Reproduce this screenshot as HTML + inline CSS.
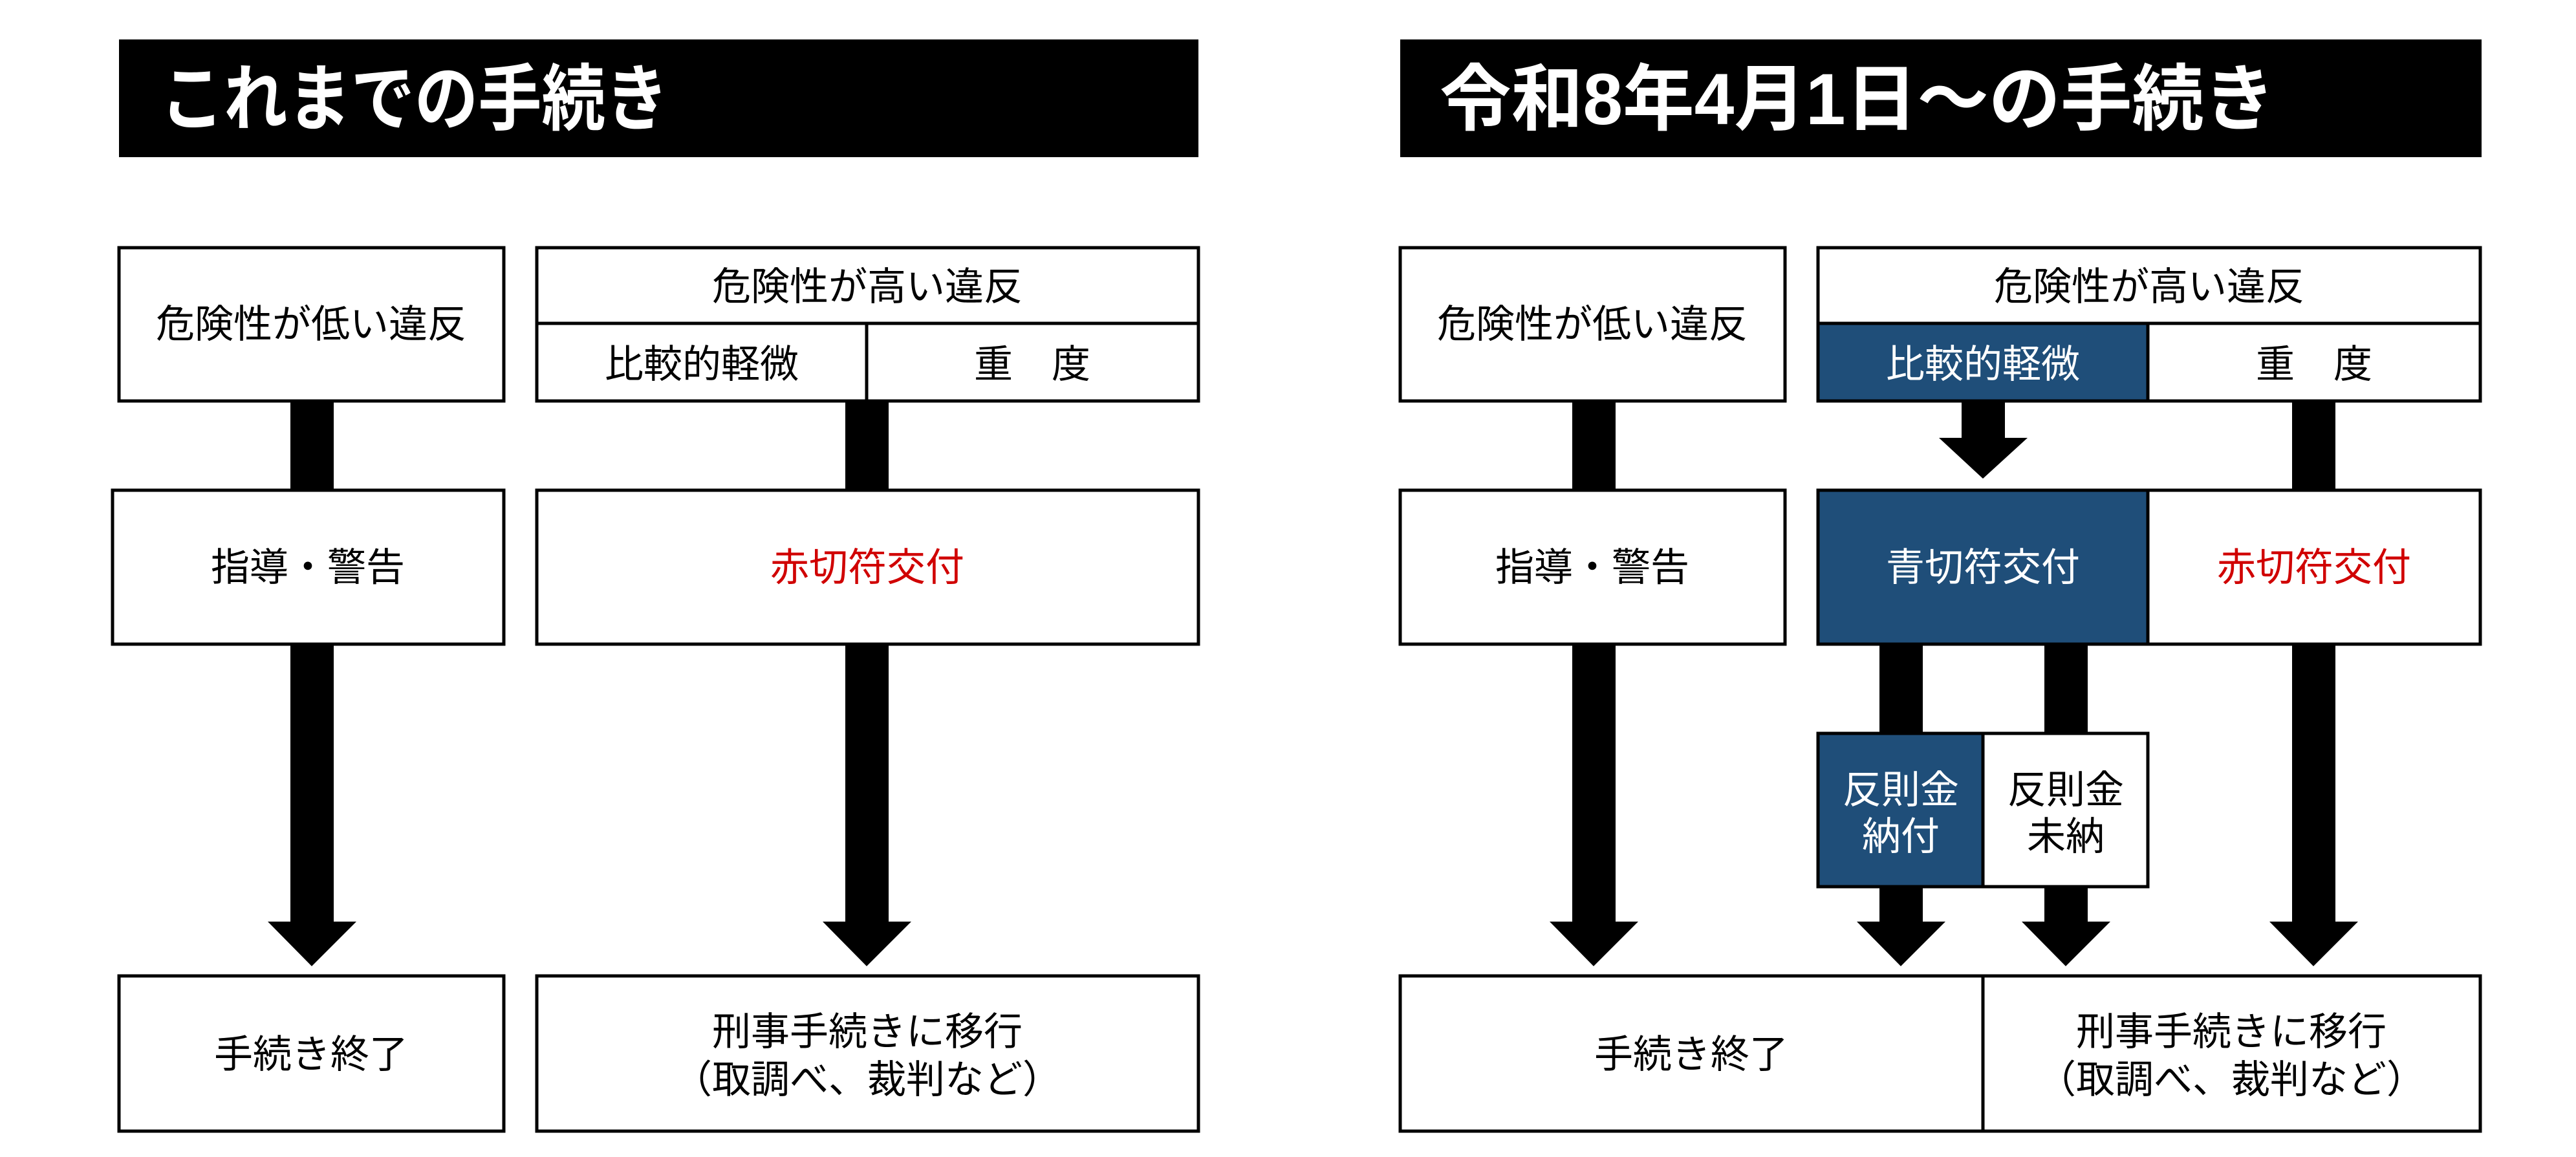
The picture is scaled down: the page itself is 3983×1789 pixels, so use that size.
<!DOCTYPE html>
<html><head><meta charset="utf-8"><style>
html,body{margin:0;padding:0;background:#fff;}
svg{display:block;}
text{font-family:"Liberation Sans","Noto Sans CJK JP",sans-serif;}
</style></head><body>
<svg width="3983" height="1789" viewBox="0 0 3983 1789" xmlns="http://www.w3.org/2000/svg">
<!-- Titles -->
<rect x="184" y="61" width="1669" height="182" fill="#000"/>
<text x="248" y="192" font-size="112" font-weight="bold" fill="#fff" textLength="786" lengthAdjust="spacingAndGlyphs">これまでの手続き</text>
<rect x="2165" y="61" width="1672" height="182" fill="#000"/>
<text x="2226" y="192" font-size="112" font-weight="bold" fill="#fff" textLength="1292" lengthAdjust="spacingAndGlyphs">令和8年4月1日～の手続き</text>

<g fill="#000">
<rect x="449" y="620" width="67" height="140"/>
<rect x="1307" y="620" width="67" height="140"/>
<rect x="449" y="994" width="67" height="433"/>
<polygon points="414,1425 551,1425 482,1494"/>
<rect x="1307" y="994" width="67" height="433"/>
<polygon points="1272,1425 1409,1425 1340,1494"/>
<rect x="2431" y="620" width="67" height="140"/>
<rect x="2431" y="994" width="67" height="433"/>
<polygon points="2396,1425 2533,1425 2464,1494"/>
<rect x="3033" y="620" width="67" height="59"/>
<polygon points="2998,677 3135,677 3066,740"/>
<rect x="3544" y="620" width="67" height="140"/>
<rect x="3544" y="994" width="67" height="433"/>
<polygon points="3509,1425 3646,1425 3577,1494"/>
<rect x="2906" y="994" width="67" height="142"/>
<rect x="3161" y="994" width="67" height="142"/>
<rect x="2906" y="1369" width="67" height="58"/>
<polygon points="2871,1425 3008,1425 2939,1494"/>
<rect x="3161" y="1369" width="67" height="58"/>
<polygon points="3126,1425 3263,1425 3194,1494"/>
</g>

<g stroke="#000" stroke-width="5" fill="#fff">
<rect x="184" y="383" width="595" height="237"/>
<rect x="830" y="383" width="1023" height="237"/>
<line x1="830" y1="500" x2="1853" y2="500"/>
<line x1="1340" y1="500" x2="1340" y2="620"/>
<rect x="174" y="758" width="605" height="238"/>
<rect x="830" y="758" width="1023" height="238"/>
<rect x="184" y="1509" width="595" height="240"/>
<rect x="830" y="1509" width="1023" height="240"/>
<rect x="2165" y="383" width="595" height="237"/>
<rect x="2811" y="383" width="1024" height="237"/>
<rect x="2811" y="500" width="510" height="120" fill="#1f4e79"/>
<line x1="2811" y1="500" x2="3835" y2="500"/>
<rect x="2165" y="758" width="595" height="238"/>
<rect x="2811" y="758" width="510" height="238" fill="#1f4e79"/>
<rect x="3321" y="758" width="514" height="238"/>
<rect x="2811" y="1134" width="255" height="237" fill="#1f4e79"/>
<rect x="3066" y="1134" width="255" height="237"/>
<rect x="2165" y="1509" width="901" height="240"/>
<rect x="3066" y="1509" width="769" height="240"/>
</g>

<g font-size="60" text-anchor="middle" fill="#000">
<text x="481" y="522">危険性が低い違反</text>
<text x="1341" y="464">危険性が高い違反</text>
<text x="1085" y="584">比較的軽微</text>
<text x="1596" y="584">重　度</text>
<text x="476" y="898">指導・警告</text>
<text x="1341" y="898" fill="#d00000">赤切符交付</text>
<text x="481" y="1651">手続き終了</text>
<text x="1341" y="1616">刑事手続きに移行</text>
<text x="1341" y="1690">（取調べ、裁判など）</text>
<text x="2462" y="522">危険性が低い違反</text>
<text x="3323" y="464">危険性が高い違反</text>
<text x="3066" y="584" fill="#fff">比較的軽微</text>
<text x="3578" y="584">重　度</text>
<text x="2462" y="898">指導・警告</text>
<text x="3066" y="898" fill="#fff">青切符交付</text>
<text x="3578" y="898" fill="#d00000">赤切符交付</text>
<text x="2939" y="1242" fill="#fff">反則金</text>
<text x="2939" y="1314" fill="#fff">納付</text>
<text x="3194" y="1242">反則金</text>
<text x="3194" y="1314">未納</text>
<text x="2615" y="1651">手続き終了</text>
<text x="3450" y="1616">刑事手続きに移行</text>
<text x="3450" y="1690">（取調べ、裁判など）</text>
</g>
</svg>
</body></html>
